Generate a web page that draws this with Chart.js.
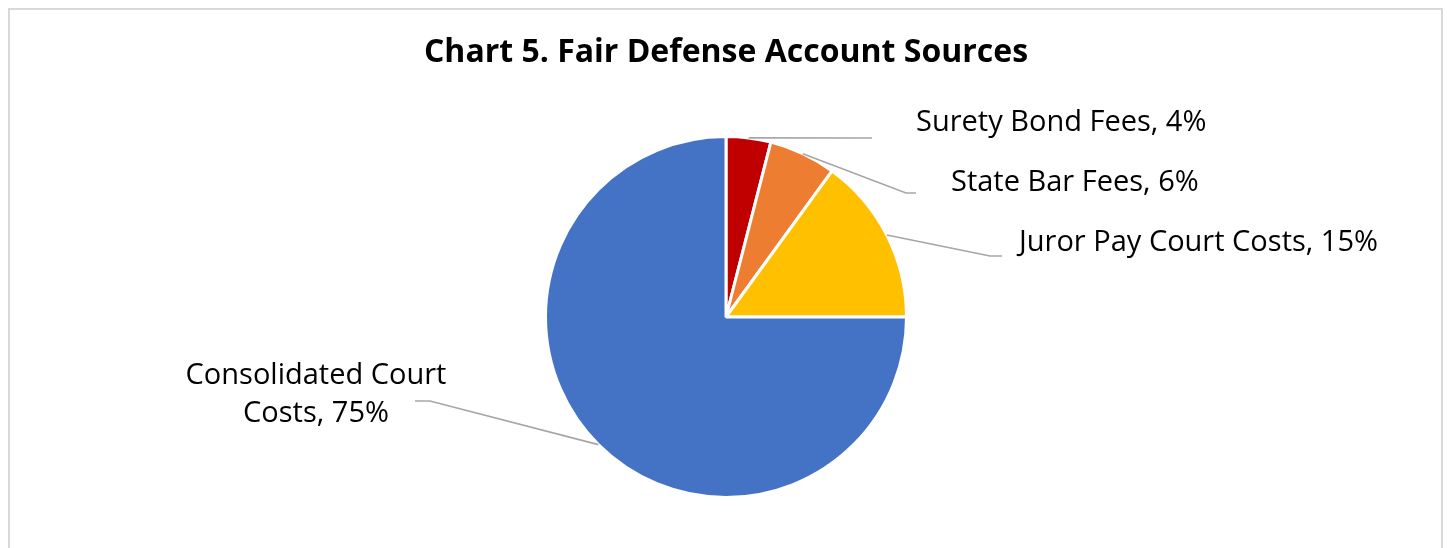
<!DOCTYPE html>
<html>
<head>
<meta charset="utf-8">
<script src="https://cdn.jsdelivr.net/npm/chart.js@4/dist/chart.umd.min.js"></script>
<style>
  html, body { margin: 0; padding: 0; background: #fff; overflow: hidden; }
  #wrap { position: relative; width: 1447px; height: 548px; }
  #frame { position: absolute; left: 8px; top: 8px; width: 1435px; height: 560px; border: 2px solid #d9d9d9; box-sizing: border-box; }
  canvas { position: absolute; left: 0; top: 0; }
</style>
</head>
<body>
<div id="wrap">
  <div id="frame"></div>
  <canvas id="pie" width="1447" height="548"></canvas>
</div>
<script>
// chart data
const categories = ['Surety Bond Fees', 'State Bar Fees', 'Juror Pay Court Costs', 'Consolidated Court Costs'];
const shares = [4, 6, 15, 75];
const sliceColors = ['#C00000', '#ED7D31', '#FFC000', '#4472C4'];
const chartTitle = 'Chart 5. Fair Defense Account Sources';

// where each label sits, relative to the pie centre (px)
// elbow = end of the slanted leader, tail = end of the short flat bit, text = anchor of label
const labelLayout = [
    { elbow: [146, -179], tail: [146, -179], text: [190, -194], align: 'left', lines: ['Surety Bond Fees, 4%'] },
    { elbow: [180, -124], tail: [190, -124], text: [225, -134], align: 'left', lines: ['State Bar Fees, 6%'] },
    { elbow: [264, -61], tail: [276, -61], text: [293, -74], align: 'left', lines: ['Juror Pay Court Costs, 15%'] },
    { elbow: [-296, 84], tail: [-311, 84], text: [-410, 59], align: 'center', lines: ['Consolidated Court', 'Costs, 75%'] }
];

const labelFont = '29px "Open Sans"';

const leaderLabels = {
    id: 'leaderLabels',
    afterDatasetsDraw(chart) {
        const ctx = chart.ctx;
        const arcs = chart.getDatasetMeta(0).data;
        ctx.save();
        arcs.forEach((arc, i) => {
            const p = arc.getProps(['x', 'y', 'startAngle', 'endAngle', 'outerRadius'], true);
            const mid = (p.startAngle + p.endAngle) / 2;
            const sx = p.x + Math.cos(mid) * p.outerRadius;
            const sy = p.y + Math.sin(mid) * p.outerRadius;
            const lay = labelLayout[i];
            ctx.strokeStyle = '#a6a6a6';
            ctx.lineWidth = 1.6;
            ctx.beginPath();
            ctx.moveTo(sx, sy);
            ctx.lineTo(p.x + lay.elbow[0], p.y + lay.elbow[1]);
            ctx.lineTo(p.x + lay.tail[0], p.y + lay.tail[1]);
            ctx.stroke();

            ctx.fillStyle = '#000';
            ctx.font = labelFont;
            ctx.textAlign = lay.align;
            ctx.textBaseline = 'middle';
            lay.lines.forEach((ln, k) => {
                ctx.fillText(ln, p.x + lay.text[0], p.y + lay.text[1] + k * 38);
            });
        });

        // title, drawn here so the normal-width bold face can be asked for
        const area = chart.chartArea;
        ctx.font = '700 32px "Open Sans"';
        if ('fontStretch' in ctx) ctx.fontStretch = 'normal';
        ctx.fillStyle = '#000';
        ctx.textAlign = 'center';
        ctx.textBaseline = 'middle';
        ctx.fillText(chartTitle, (area.left + area.right) / 2, 53);
        ctx.restore();
    }
};

new Chart(document.getElementById('pie').getContext('2d'), {
    type: 'pie',
    data: {
        labels: categories,
        datasets: [{
            data: shares,
            backgroundColor: sliceColors,
            borderColor: '#ffffff',
            borderWidth: 3
        }]
    },
    options: {
        responsive: false,
        animation: false,
        layout: { padding: { left: 544, right: 539, top: 135, bottom: 49 } },
        plugins: {
            legend: { display: false },
            tooltip: { enabled: false },
            title: { display: false }
        }
    },
    plugins: [leaderLabels]
});
</script>
</body>
</html>
